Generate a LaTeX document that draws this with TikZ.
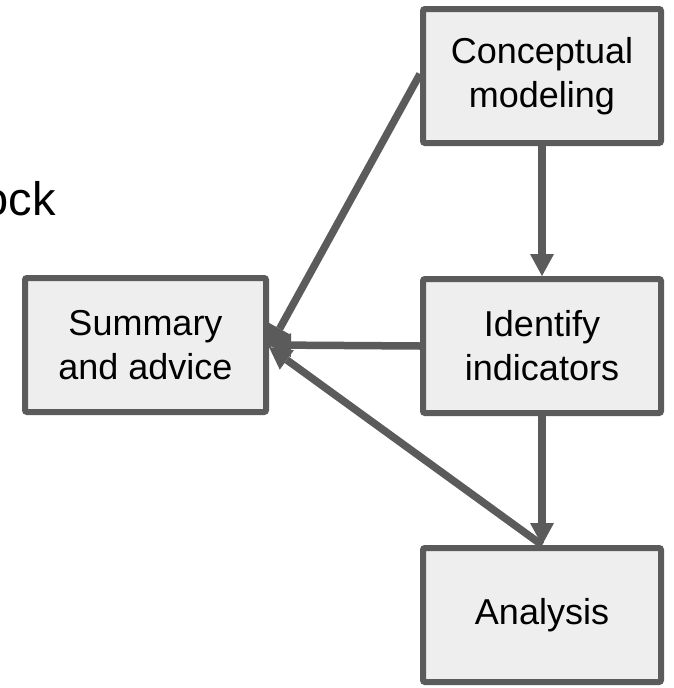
\documentclass[tikz,border=0pt]{standalone}
\usepackage{fontspec}
\setmainfont{Liberation Sans}
\usetikzlibrary{arrows.meta}
\definecolor{edgegray}{HTML}{5B5B5B}
\definecolor{boxfill}{HTML}{EEEEEE}
\begin{document}
\begin{tikzpicture}[x=1pt,y=-1pt,
  procbox/.style={draw=edgegray, fill=boxfill, line width=6pt, rounded corners=2pt,
    minimum width=238pt, minimum height=134pt, align=center, inner sep=0pt,
    font=\fontsize{36}{44}\selectfont},
  flow/.style={draw=edgegray, line width=7.5pt,
    -{Triangle[length=22pt,width=24pt,line width=0pt]}}]
\useasboundingbox (0,0) rectangle (674,688);
\node[procbox] (concept) at (542,76) {Conceptual\\modeling};
\node[procbox] (ident) at (542,346) {Identify\\indicators};
\node[procbox] (anal) at (542,615) {Analysis};
\node[procbox, minimum width=241pt] (summ) at (145.5,345) {Summary\\and advice};
\node[anchor=base east, inner sep=0pt, font=\fontsize{47}{50}\selectfont] (ock) at (56,215) {ock};
\draw[flow] (concept.south) -- (ident.north);
\draw[flow] (ident.south) -- (anal.north);
\draw[flow] (ident.west) -- (summ.east);
\draw[flow] ([yshift=2pt]concept.west) -- ([yshift=-3pt]summ.east);
\draw[flow] (anal.north) -- ([yshift=-2pt]summ.east);
\end{tikzpicture}
\end{document}
